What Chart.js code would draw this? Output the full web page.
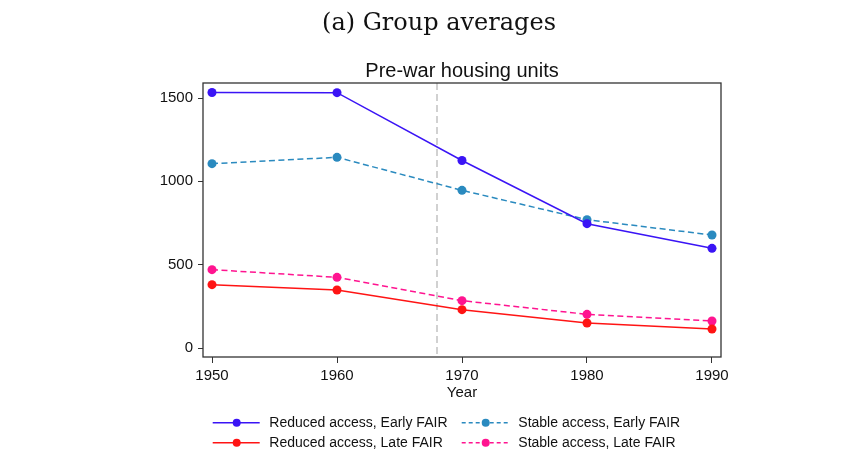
<!DOCTYPE html>
<html><head><meta charset="utf-8">
<script src="https://cdn.jsdelivr.net/npm/chart.js@4.4.1/dist/chart.umd.min.js"></script>
<style>html,body{margin:0;padding:0;background:#fff;} #wrap{width:865px;height:459px;position:relative;}</style>
</head><body><div id="wrap"><canvas id="c"></canvas></div>
<script>
const years = [1950, 1960, 1970, 1980, 1990];
const reducedEarly = [1533, 1532, 1125, 746, 598];
const stableEarly = [1106, 1144, 946, 770, 678];
const reducedLate = [380, 348, 230, 150, 114];
const stableLate = [470, 424, 284, 202, 162];
const yTicks = [0, 500, 1000, 1500];
const xTicks = [1950, 1960, 1970, 1980, 1990];
const fairYear = 1968;
const seriesLabels = ['Reduced access, Early FAIR', 'Stable access, Early FAIR', 'Reduced access, Late FAIR', 'Stable access, Late FAIR'];
const mainTitle = '(a) Group averages';
const subTitle = 'Pre-war housing units';
const xTitle = 'Year';

const SANS = "'Liberation Sans', Arial, sans-serif";
const DASH = [6, 3.5];

function pts(vals) { return years.map((y, i) => ({x: y, y: vals[i]})); }
function ds(label, vals, color, dashed, order) {
  return {
    label, data: pts(vals), borderColor: color, backgroundColor: color,
    borderWidth: 1.5, borderDash: dashed ? DASH : [], pointRadius: 4.5,
    pointBorderWidth: 0, pointBackgroundColor: color, pointHoverRadius: 4.5,
    tension: 0, fill: false, order
  };
}

const legendPos = [[212.7, 422.7], [461.7, 422.7], [212.7, 442.7], [461.7, 442.7]];

const framePlugin = {
  id: 'frame',
  beforeDatasetsDraw(chart) {
    const {ctx, chartArea: a} = chart;
    const xs = chart.scales.x;
    ctx.save();
    const px = xs.getPixelForValue(fairYear);
    ctx.strokeStyle = '#c2c2c2'; ctx.lineWidth = 1.5; ctx.setLineDash([7, 4]);
    ctx.beginPath(); ctx.moveTo(px, a.top); ctx.lineTo(px, a.bottom); ctx.stroke();
    ctx.setLineDash([]);
    ctx.strokeStyle = '#333'; ctx.lineWidth = 1.3;
    ctx.strokeRect(a.left, a.top, a.right - a.left, a.bottom - a.top);
    ctx.restore();
  },
  afterDraw(chart) {
    const ctx = chart.ctx;
    ctx.save();
    chart.data.datasets.forEach((d, i) => {
      const [x0, y0] = legendPos[i];
      ctx.strokeStyle = d.borderColor; ctx.lineWidth = 1.5;
      ctx.setLineDash(d.borderDash.length ? [4, 3] : []);
      ctx.beginPath(); ctx.moveTo(x0, y0); ctx.lineTo(x0 + 47, y0); ctx.stroke();
      ctx.setLineDash([]);
      ctx.fillStyle = d.borderColor;
      ctx.beginPath(); ctx.arc(x0 + 24, y0, 4, 0, Math.PI * 2); ctx.fill();
      ctx.fillStyle = '#111';
      ctx.font = "14px " + SANS;
      ctx.textAlign = 'left'; ctx.textBaseline = 'middle';
      ctx.fillText(d.label, x0 + 56.6, y0 + 0.5);
    });
    ctx.restore();
  }
};

new Chart(document.getElementById('c'), {
  type: 'line',
  data: {
    datasets: [
      ds(seriesLabels[0], reducedEarly, '#3a14f5', false, 1),
      ds(seriesLabels[1], stableEarly, '#2a8abf', true, 2),
      ds(seriesLabels[2], reducedLate, '#ff1414', false, 3),
      ds(seriesLabels[3], stableLate, '#ff1490', true, 4)
    ]
  },
  options: {
    responsive: true, maintainAspectRatio: false, animation: false,
    layout: {padding: {left: 157, right: 144, top: 0, bottom: 57}},
    plugins: {
      legend: {display: false},
      tooltip: {enabled: false},
      title: {display: true, text: mainTitle, color: '#111',
        font: {family: "'DejaVu Serif', serif", size: 24, weight: 'normal', lineHeight: 1.2},
        padding: {top: 9, bottom: 21.2}},
      subtitle: {display: true, text: subTitle, fullSize: false, color: '#111',
        font: {family: SANS, size: 20, weight: 'normal', lineHeight: 1.2},
        padding: {top: 0, bottom: 0}}
    },
    scales: {
      x: {
        type: 'linear', min: 1949.28, max: 1990.72,
        afterBuildTicks: s => { s.ticks = xTicks.map(v => ({value: v})); },
        afterFit: s => { s.height = 45; },
        grid: {drawOnChartArea: false, drawTicks: true, tickLength: 6, color: '#333', lineWidth: 1},
        border: {display: false},
        ticks: {padding: 4, color: '#111', font: {family: SANS, size: 15}, maxRotation: 0, autoSkip: false,
          callback: v => String(v)},
        title: {display: true, text: xTitle, color: '#111', font: {family: SANS, size: 15}, padding: {top: 0, bottom: 0}}
      },
      y: {
        min: -54, max: 1590,
        afterBuildTicks: s => { s.ticks = yTicks.map(v => ({value: v})); },
        afterFit: s => { s.width = 46; },
        grid: {drawOnChartArea: false, drawTicks: true, tickLength: 5, color: '#333', lineWidth: 1},
        border: {display: false},
        ticks: {padding: 5, color: '#111', font: {family: SANS, size: 15}, autoSkip: false,
          callback: v => String(v)}
      }
    }
  },
  plugins: [framePlugin]
});
</script>
</body></html>
